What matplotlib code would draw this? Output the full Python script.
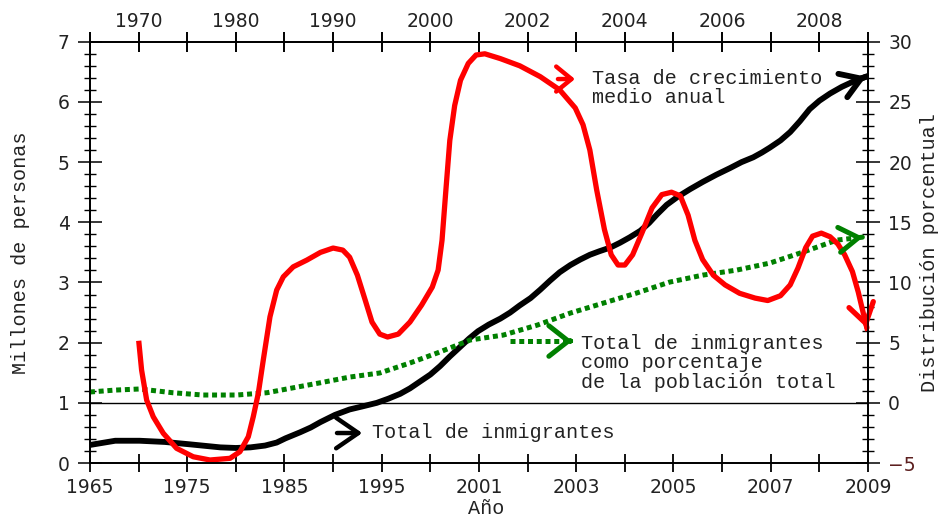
"""
Inmigración: total de inmigrantes, porcentaje sobre la población total
y tasa de crecimiento medio anual.
"""

import matplotlib
matplotlib.use("Agg")
import matplotlib.pyplot as plt
from matplotlib.ticker import MultipleLocator, FixedLocator

# --- Ejes (posiciones de la escala de años, no lineal) ---
bottom_ticks = [0, 1, 2, 3, 4, 5, 6, 7, 8]
bottom_labels = ["1965", "1975", "1985", "1995", "2001", "2003", "2005", "2007", "2009"]
top_ticks = [0.5, 1.5, 2.5, 3.5, 4.5, 5.5, 6.5, 7.5]
top_labels = ["1970", "1980", "1990", "2000", "2002", "2004", "2006", "2008"]

# --- Total de inmigrantes (millones de personas, eje izquierdo) ---
total_x = [0.00, 0.26, 0.51, 0.77, 1.03, 1.34, 1.50, 1.65, 1.80, 1.92, 2.01,
           2.16, 2.27, 2.37, 2.52, 2.67, 2.80, 2.95, 3.07, 3.19, 3.29, 3.39,
           3.50, 3.60, 3.70, 3.80, 3.90, 3.99, 4.10, 4.22, 4.32, 4.42, 4.53,
           4.63, 4.73, 4.83, 4.94, 5.04, 5.14, 5.24, 5.35, 5.45, 5.55, 5.66,
           5.75, 5.83, 5.93, 6.04, 6.17, 6.30, 6.44, 6.58, 6.70, 6.82, 6.91,
           6.99, 7.10, 7.20, 7.30, 7.40, 7.50, 7.61, 7.73, 7.85, 7.98]
total_y = [0.30, 0.37, 0.37, 0.35, 0.31, 0.26, 0.25, 0.26, 0.29, 0.34, 0.41,
           0.51, 0.59, 0.68, 0.80, 0.89, 0.94, 1.00, 1.07, 1.15, 1.24, 1.35,
           1.47, 1.61, 1.77, 1.92, 2.07, 2.19, 2.30, 2.40, 2.50, 2.62, 2.74,
           2.88, 3.03, 3.17, 3.29, 3.38, 3.46, 3.52, 3.58, 3.66, 3.75, 3.86,
           3.99, 4.13, 4.29, 4.42, 4.55, 4.67, 4.79, 4.90, 5.00, 5.08, 5.16,
           5.24, 5.36, 5.50, 5.68, 5.88, 6.02, 6.14, 6.25, 6.34, 6.42]

# --- Tasa de crecimiento medio anual (%, eje derecho) ---
tasa_x = [0.504, 0.531, 0.583, 0.651, 0.754, 0.891, 1.062, 1.234, 1.440,
          1.542, 1.628, 1.679, 1.731, 1.782, 1.851, 1.920, 1.988, 2.09, 2.23,
          2.37, 2.50, 2.60, 2.67, 2.75, 2.83, 2.90, 2.98, 3.06, 3.17, 3.29,
          3.41, 3.52, 3.58, 3.62, 3.66, 3.70, 3.75, 3.81, 3.89, 3.97, 4.06,
          4.22, 4.42, 4.63, 4.83, 4.99, 5.07, 5.14, 5.21, 5.29, 5.36, 5.43,
          5.50, 5.58, 5.68, 5.78, 5.88, 5.98, 6.07, 6.15, 6.22, 6.30, 6.41,
          6.53, 6.68, 6.84, 6.97, 7.10, 7.20, 7.28, 7.36, 7.43, 7.52, 7.61,
          7.69, 7.76, 7.84, 7.90, 7.95, 7.99]
tasa_y = [4.94, 2.72, 0.23, -1.16, -2.53, -3.78, -4.48, -4.75, -4.61, -4.06,
          -2.82, -1.16, 0.79, 3.55, 7.15, 9.37, 10.47, 11.30, 11.86, 12.50,
          12.86, 12.69, 12.10, 10.60, 8.54, 6.71, 5.71, 5.47, 5.71, 6.71, 8.12,
          9.62, 11.03, 13.50, 17.70, 21.80, 24.70, 26.80, 28.20, 28.90, 29.00,
          28.60, 28.00, 27.10, 26.00, 24.50, 23.10, 21.00, 17.70, 14.40, 12.30,
          11.45, 11.45, 12.30, 14.20, 16.20, 17.30, 17.50, 17.20, 15.60, 13.50,
          11.90, 10.60, 9.80, 9.10, 8.70, 8.50, 8.90, 9.80, 11.20, 12.90, 13.85,
          14.10, 13.80, 13.20, 12.30, 10.90, 9.20, 7.50, 6.20]

# --- Inmigrantes como porcentaje de la población total (%, eje derecho) ---
pct_x = [0.00, 0.26, 0.51, 0.85, 1.16, 1.51, 1.82, 2.09, 2.37, 2.67, 2.98,
         3.29, 3.57, 3.91, 4.25, 4.60, 4.94, 5.28, 5.62, 5.96, 6.30, 6.65,
         6.99, 7.33, 7.68, 7.95]
pct_y = [0.90, 1.06, 1.15, 0.84, 0.65, 0.65, 0.84, 1.25, 1.67, 2.14, 2.48,
         3.31, 4.14, 5.22, 5.63, 6.46, 7.46, 8.29, 9.12, 10.03, 10.61, 11.03,
         11.61, 12.52, 13.52, 13.77]

RED = "#ff0000"
GREEN = "#008000"
TEXT_FONT = ["Liberation Mono", "DejaVu Sans Mono"]
TEXT_SIZE = 14.5
TICK_SIZE = 13.5


def arrow_head(ax, xs, ys, color, lw, coords="data"):
    """Draw an open chevron at (xs[-1], ys[-1]) pointing from the previous point."""
    x1, y1 = xs[-1], ys[-1]
    x0 = x1 - 0.03 * (x1 - xs[-2])
    y0 = y1 - 0.03 * (y1 - ys[-2])
    ax.annotate(
        "", xy=(x1, y1), xytext=(x0, y0), xycoords=coords, textcoords=coords,
        arrowprops=dict(arrowstyle="->,head_length=0.7,head_width=0.45",
                        color=color, lw=lw, mutation_scale=20,
                        shrinkA=0, shrinkB=0, joinstyle="miter"),
    )


def main():
    fig = plt.figure(figsize=(9.4, 5.22), dpi=100, facecolor="white")
    ax = fig.add_axes([0.0957, 0.113, 0.8277, 0.807])
    ax_r = ax.twinx()
    ax_t = ax.twiny()

    # Curves
    ax.plot(total_x, total_y, color="black", lw=4.2, solid_joinstyle="round")
    arrow_head(ax, total_x, total_y, "black", 4.2)

    ax_r.plot(pct_x, pct_y, color=GREEN, lw=3.6, linestyle=(0, (1.0, 0.75)),
              dash_capstyle="butt")
    arrow_head(ax_r, pct_x, pct_y, GREEN, 3.6)

    ax_r.plot(tasa_x, tasa_y, color=RED, lw=3.8, solid_joinstyle="round")
    arrow_head(ax_r, tasa_x, tasa_y, RED, 3.8)

    # Horizontal reference line (0 %)
    ax.axhline(1, color="black", lw=1.0)

    # Limits
    ax.set_xlim(0, 8)
    ax_t.set_xlim(0, 8)
    ax.set_ylim(0, 7)
    ax_r.set_ylim(-5, 30)

    # Bottom axis
    ax.xaxis.set_major_locator(FixedLocator(bottom_ticks))
    ax.set_xticklabels(bottom_labels)
    ax.xaxis.set_minor_locator(MultipleLocator(0.5))
    ax.tick_params(axis="x", which="both", direction="inout", length=13,
                   width=1.3, labelsize=TICK_SIZE, pad=4, colors="black",
                   labelcolor="#222222")

    # Top axis
    ax_t.xaxis.set_major_locator(FixedLocator(top_ticks))
    ax_t.set_xticklabels(top_labels)
    ax_t.xaxis.set_minor_locator(MultipleLocator(1))
    ax_t.tick_params(axis="x", which="both", direction="inout", length=15,
                     width=1.4, labelsize=TICK_SIZE, pad=0, labelcolor="#222222")

    # Left axis
    ax.yaxis.set_major_locator(MultipleLocator(1))
    ax.yaxis.set_minor_locator(MultipleLocator(0.2))
    ax.tick_params(axis="y", which="major", direction="inout", length=17,
                   width=1.1, labelsize=TICK_SIZE, pad=6, labelcolor="#222222")
    ax.tick_params(axis="y", which="minor", direction="inout", length=8.6,
                   width=1.0)

    # Right axis
    ax_r.yaxis.set_major_locator(MultipleLocator(5))
    ax_r.yaxis.set_minor_locator(MultipleLocator(1))
    ax_r.tick_params(axis="y", which="major", direction="inout", length=17,
                     width=1.1, labelsize=TICK_SIZE, pad=6, labelcolor="#222222")
    ax_r.tick_params(axis="y", which="minor", direction="inout", length=8.6,
                     width=1.0)
    fig.canvas.draw()
    for lab in ax_r.get_yticklabels():
        if lab.get_text() in ("\u22125", "-5"):
            lab.set_color("#5c1f1f")

    for a in (ax, ax_r, ax_t):
        for sp in a.spines.values():
            sp.set_linewidth(1.1)

    # Axis labels
    ax.set_xlabel("Año", family=TEXT_FONT, fontsize=TEXT_SIZE, color="#222222")
    ax.xaxis.set_label_coords(0.509, -0.086)
    ax.set_ylabel("Millones de personas", family=TEXT_FONT,
                  fontsize=TEXT_SIZE, color="#222222")
    ax.yaxis.set_label_coords(-0.077, 0.5)
    ax_r.set_ylabel("Distribución porcentual", family=TEXT_FONT,
                    fontsize=TEXT_SIZE, color="#222222")
    ax_r.yaxis.set_label_coords(1.067, 0.5)

    # Inline legend: red
    ax.annotate("", xy=(0.6234, 0.9115), xytext=(0.6015, 0.9115),
                xycoords="axes fraction", textcoords="axes fraction",
                arrowprops=dict(arrowstyle="->,head_length=0.55,head_width=0.45",
                                color=RED, lw=3.2, mutation_scale=20,
                                shrinkA=0, shrinkB=0))
    ax.text(0.645, 0.890, "Tasa de crecimiento\nmedio anual",
            transform=ax.transAxes, family=TEXT_FONT, fontsize=TEXT_SIZE,
            va="center", ha="left", linespacing=1.05, color="#222222")

    # Inline legend: green
    ax.plot([0.540, 0.612], [0.2896, 0.2896], transform=ax.transAxes,
            color=GREEN, lw=3.6, linestyle=(0, (1.0, 0.75)),
            dash_capstyle="butt")
    ax.annotate("", xy=(0.620, 0.2896), xytext=(0.617, 0.2896),
                xycoords="axes fraction", textcoords="axes fraction",
                arrowprops=dict(arrowstyle="->,head_length=0.7,head_width=0.55",
                                color=GREEN, lw=3.6, mutation_scale=20,
                                shrinkA=0, shrinkB=0))
    ax.text(0.631, 0.238,
            "Total de inmigrantes\ncomo porcentaje\nde la población total",
            transform=ax.transAxes, family=TEXT_FONT, fontsize=TEXT_SIZE,
            va="center", ha="left", linespacing=1.05, color="#222222")

    # Inline legend: black
    ax.annotate("", xy=(0.350, 0.0712), xytext=(0.3175, 0.0712),
                xycoords="axes fraction", textcoords="axes fraction",
                arrowprops=dict(arrowstyle="->,head_length=0.8,head_width=0.55",
                                color="black", lw=3.2, mutation_scale=20,
                                shrinkA=0, shrinkB=0))
    ax.text(0.3625, 0.0736, "Total de inmigrantes", transform=ax.transAxes,
            family=TEXT_FONT, fontsize=TEXT_SIZE, va="center", ha="left",
            color="#222222")

    fig.savefig("out.png", dpi=100, facecolor="white")
    plt.close(fig)


if __name__ == "__main__":
    main()
